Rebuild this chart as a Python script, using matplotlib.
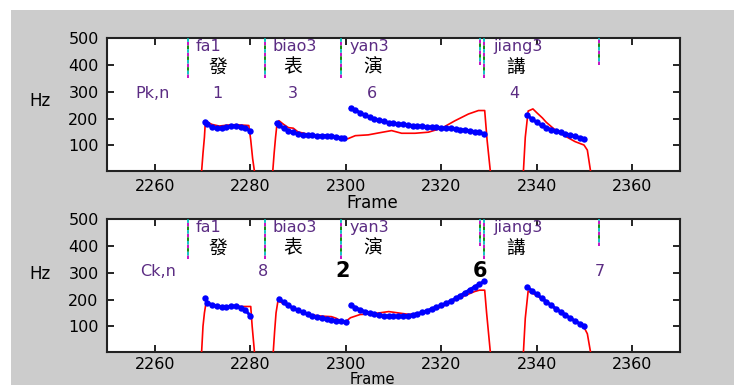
import numpy as np
import matplotlib.pyplot as plt
from matplotlib.patches import Rectangle

# ---- data ----
# syllable boundary markers (frame, lower end in Hz)
mark_fr = [2267, 2283, 2299, 2328.2, 2329, 2353]
mark_lo = [350, 350, 350, 400, 350, 400]

syl_pinyin = ["fa1", "biao3", "yan3", "jiang3"]
syl_pinyin_x = [2268.5, 2284.7, 2300.8, 2331.0]
syl_hanzi = ["發", "表", "演", "講"]
syl_hanzi_x = [2273.2, 2288.9, 2305.6, 2335.6]

pk_labels = ["1", "3", "6", "4"]
pk_x = [2273.1, 2289.0, 2305.4, 2335.3]
ck_labels = ["8", "2", "6", "7"]
ck_x = [2282.6, 2299.4, 2328.2, 2353.2]
ck_bold = [False, True, True, False]

# top panel (Pk,n): blue dots
pk_fr_1 = [2270.5, 2271, 2272, 2273, 2274, 2275, 2276, 2277, 2278, 2279, 2280]
pk_hz_1 = [188, 178, 168, 163, 164, 168, 171, 172, 170, 166, 152]
pk_fr_2 = [2285.5, 2286, 2287, 2288, 2289, 2290, 2291, 2292, 2293, 2294, 2295,
           2296, 2297, 2298, 2299, 2299.6]
pk_hz_2 = [182, 175, 164, 155, 148, 143, 140, 138, 137, 136, 136, 136, 135, 132,
           128, 126]
pk_fr_3 = list(range(2301, 2330))
pk_hz_3 = [240, 231, 222, 213, 205, 198, 193, 189, 185, 182, 180, 178, 176, 174,
           172, 171, 169, 168, 167, 166, 164, 163, 161, 159, 157, 154, 151, 148, 143]
pk_fr_4 = list(range(2338, 2351))
pk_hz_4 = [213, 198, 186, 175, 166, 159, 153, 148, 143, 139, 134, 129, 124]

# top panel: red contour
pk_red_fr_1 = [2269.8, 2270.1, 2270.4, 2270.6, 2272, 2273.5, 2275.5, 2277, 2279.7,
               2280.1, 2280.5, 2280.9]
pk_red_hz_1 = [0, 70, 130, 190, 178, 172, 176, 177, 174, 120, 50, 0]
pk_red_fr_2 = [2284.7, 2285.0, 2285.3, 2285.6, 2286, 2287, 2288, 2289, 2290, 2292,
               2294, 2296, 2298, 2299.5, 2300.5, 2302, 2304.7, 2306.8, 2309.6,
               2311.7, 2314.5, 2317.3, 2320.1, 2322.9, 2325.7, 2327.8, 2329.1,
               2329.6, 2330.3]
pk_red_hz_2 = [0, 70, 130, 180, 192, 178, 166, 164, 150, 142, 138, 137, 131, 122,
               125, 136, 139, 146, 155, 145, 145, 149, 164, 192, 217, 230, 230,
               120, 0]
pk_red_fr_3 = [2337.2, 2337.6, 2338.2, 2339.2, 2340, 2341.2, 2342, 2343.3, 2344,
               2345, 2346.8, 2348, 2349.9, 2350.6, 2351.3]
pk_red_hz_3 = [0, 130, 228, 236, 222, 202, 186, 166, 156, 144, 126, 114, 101, 82, 0]

# bottom panel (Ck,n): blue dots
ck_fr_1 = [2270.5, 2271, 2272, 2273, 2274, 2275, 2276, 2277, 2278, 2279, 2280]
ck_hz_1 = [205, 188, 180, 175, 171, 172, 175, 175, 170, 160, 140]
ck_fr_2 = list(range(2286, 2301))
ck_hz_2 = [203, 190, 178, 168, 160, 152, 145, 139, 134, 130, 127, 124, 121, 118, 115]
ck_fr_3 = list(range(2301, 2330))
ck_hz_3 = [178, 170, 162, 155, 150, 146, 142, 140, 138, 137, 137, 138, 140, 143,
           147, 152, 158, 165, 172, 179, 186, 195, 204, 215, 226, 237, 248, 258, 268]
ck_fr_4 = list(range(2338, 2351))
ck_hz_4 = [247, 233, 220, 206, 192, 179, 166, 154, 142, 131, 120, 110, 100]

# bottom panel: red contour
ck_red_fr_1 = [2269.8, 2270.1, 2270.4, 2270.8, 2271.5, 2273, 2275, 2277, 2278,
               2280.1, 2280.4, 2280.9]
ck_red_hz_1 = [0, 100, 150, 195, 185, 176, 173, 176, 174, 174, 100, 0]
ck_red_fr_2 = [2284.8, 2285.1, 2285.4, 2285.8, 2287, 2289, 2291, 2293, 2295, 2297,
               2298, 2299, 2300, 2301, 2303, 2305, 2307, 2309, 2311, 2313, 2315,
               2317, 2319, 2321, 2323, 2325, 2327, 2328, 2329.1, 2329.5, 2330.3]
ck_red_hz_2 = [0, 80, 150, 195, 185, 165, 150, 142, 138, 136, 130, 120, 118, 132,
               144, 146, 150, 155, 150, 145, 145, 155, 165, 180, 198, 215, 230,
               235, 235, 150, 0]
ck_red_fr_3 = [2337.2, 2337.6, 2338.2, 2340, 2342, 2344, 2346, 2348, 2349.8,
               2350.6, 2351.3]
ck_red_hz_3 = [0, 130, 232, 215, 190, 163, 140, 118, 100, 72, 0]

PURPLE = "#5b2c83"

fig = plt.figure(figsize=(7.34, 3.85), dpi=100, facecolor="white")
fig.patches.append(Rectangle((11 / 734, 0), 1, 375 / 385, transform=fig.transFigure,
                             facecolor="#cccccc", edgecolor="none", zorder=-10))

ax1 = fig.add_axes([0.1458, 0.5566, 0.7806, 0.3439])
ax2 = fig.add_axes([0.1458, 0.0865, 0.7806, 0.3439])


def style(ax, hz_y):
    ax.set_xlim(2250, 2370)
    ax.set_ylim(5, 500)
    ax.set_xticks([2260, 2280, 2300, 2320, 2340, 2360])
    ax.set_yticks([100, 200, 300, 400, 500])
    ax.tick_params(direction="in", top=True, right=True, length=5, width=1.2,
                   labelsize=11.5, pad=6)
    for s in ax.spines.values():
        s.set_linewidth(1.5)
        s.set_color("#222222")
    ax.text(-0.117, hz_y, "Hz", transform=ax.transAxes, fontsize=12,
            ha="center", va="center")
    # syllable markers
    for c, off in zip(["m", "g", "c"], [0, 2, 4]):
        ax.vlines(mark_fr, mark_lo, 500, colors=c, linestyles=[(off, (2, 4))],
                  lw=1.3, zorder=3)
    for t, x in zip(syl_pinyin, syl_pinyin_x):
        ax.text(x, 470, t, fontsize=11.5, color=PURPLE, ha="left", va="center")
    for t, x in zip(syl_hanzi, syl_hanzi_x):
        ax.text(x, 392, t, fontsize=13.5, ha="center", va="center",
                family=["Noto Sans CJK TC", "DejaVu Sans"])


def curves(ax, red, blue):
    for fr, hz in red:
        ax.plot(fr, hz, color="red", lw=1.2, zorder=4)
    for fr, hz in blue:
        ax.plot(fr, hz, color="blue", lw=2.2, marker="o", markersize=4.6,
                markeredgewidth=0, zorder=5)


style(ax1, 0.529)
ax1.text(0.4625, -0.245, "Frame", transform=ax1.transAxes, fontsize=12,
         ha="center", va="center")
curves(ax1,
       [(pk_red_fr_1, pk_red_hz_1), (pk_red_fr_2, pk_red_hz_2), (pk_red_fr_3, pk_red_hz_3)],
       [(pk_fr_1, pk_hz_1), (pk_fr_2, pk_hz_2), (pk_fr_3, pk_hz_3), (pk_fr_4, pk_hz_4)])
ax1.text(2255.9, 294, "Pk,n", fontsize=11.5, color=PURPLE, ha="left", va="center")
for t, x in zip(pk_labels, pk_x):
    ax1.text(x, 294, t, fontsize=11.5, color=PURPLE, ha="center", va="center")

style(ax2, 0.587)
ax2.tick_params(axis="x", pad=3.5)
# bottom label sits at the lower edge of the figure
fig.text(372.5 / 734, 1.5 / 385, "Frame", fontsize=10.5, ha="center", va="baseline")
curves(ax2,
       [(ck_red_fr_1, ck_red_hz_1), (ck_red_fr_2, ck_red_hz_2), (ck_red_fr_3, ck_red_hz_3)],
       [(ck_fr_1, ck_hz_1), (ck_fr_2, ck_hz_2), (ck_fr_3, ck_hz_3), (ck_fr_4, ck_hz_4)])
ax2.text(2257, 305, "Ck,n", fontsize=11.5, color=PURPLE, ha="left", va="center")
for t, x, b in zip(ck_labels, ck_x, ck_bold):
    if b:
        ax2.text(x, 305, t, fontsize=15, fontweight="bold", color="black",
                 ha="center", va="center")
    else:
        ax2.text(x, 305, t, fontsize=11.5, color=PURPLE, ha="center", va="center")

fig.savefig("out.png", dpi=100, facecolor=fig.get_facecolor())
